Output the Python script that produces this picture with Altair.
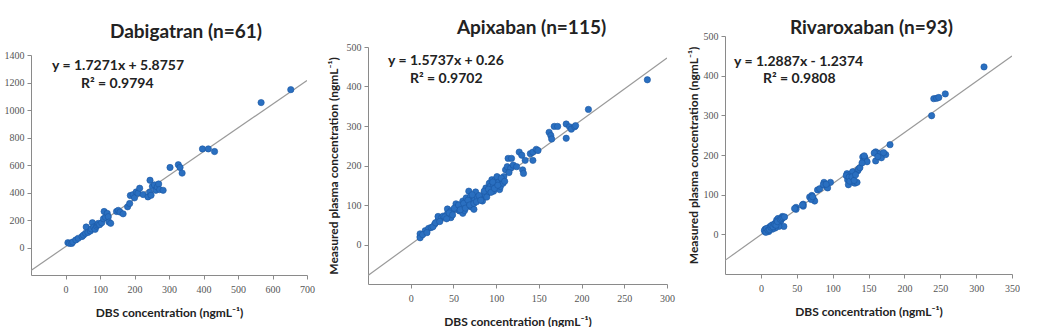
import altair as alt
import pandas as pd

# ---------------- data ----------------
dabi_x = [7, 12, 18, 21, 30, 37, 48, 52, 58, 60, 65, 72, 75, 78, 82, 86, 90, 93, 95, 99,
          105, 110, 112, 116, 121, 124, 126, 131, 148, 153, 158, 167, 180, 186, 188, 196,
          200, 205, 210, 215, 225, 239, 244, 245, 248, 252, 258, 262, 266, 270, 273, 283,
          303, 327, 332, 338, 397, 414, 432, 567, 653]
dabi_y = [35, 30, 30, 40, 55, 67, 80, 90, 103, 149, 110, 120, 135, 180, 149, 132, 155, 164, 175, 166,
          180, 209, 262, 220, 248, 224, 185, 176, 262, 270, 258, 245, 296, 320, 378, 385,
          361, 404, 395, 431, 385, 368, 402, 489, 380, 445, 455, 416, 440, 462, 421, 416,
          582, 602, 582, 541, 717, 717, 698, 1054, 1148]

apix_x = [11, 11, 11, 17, 21, 24, 28, 32, 32, 36, 38, 43, 43, 47, 47, 53, 53, 55, 57, 59,
          61, 61, 63, 65, 66, 68, 68, 70, 71, 73, 74, 75, 76, 78, 84, 84, 87, 88, 90, 92,
          93, 93, 95, 97, 97, 99, 100, 101, 103, 104, 105, 107, 108, 109, 111, 113, 114, 117, 118, 120,
          124, 127, 130, 131, 132, 134, 140, 143, 143, 147, 149, 162, 164, 165, 168, 172, 182, 182, 186, 188,
          192, 193, 208, 277,
          14, 19, 26, 29, 34, 40, 42, 45, 49, 51, 56, 58, 62, 64, 67, 69, 72, 74, 77, 80,
          82, 86, 89, 91, 94, 96, 98, 102, 106, 110, 115]
apix_y = [20, 27, 17, 35, 41, 43, 51, 61, 71, 68, 72, 78, 90, 68, 85, 103, 89, 95, 85, 101,
          110, 79, 86, 118, 97, 135, 105, 122, 95, 110, 89, 114, 133, 120, 118, 110, 126, 143, 130, 155,
          139, 147, 164, 151, 135, 164, 153, 172, 158, 139, 147, 164, 155, 172, 189, 197, 218, 193, 218, 201,
          197, 234, 226, 189, 180, 213, 230, 213, 234, 241, 238, 284, 276, 267, 299, 299, 269, 305, 298, 292,
          298, 301, 342, 417,
          25, 30, 45, 55, 58, 70, 65, 80, 75, 92, 100, 88, 104, 92, 112, 100, 126, 104, 108, 124,
          112, 135, 120, 140, 132, 158, 142, 150, 168, 160, 182]

riva_x = [5.5, 6, 9, 11, 13, 16, 18, 20, 22, 24, 26, 28, 30, 32, 25, 20, 16, 11,
          49, 49, 59, 59, 68, 71, 73, 75, 79, 82, 88, 90, 93, 97,
          120, 121, 122, 125, 126, 128, 129, 131, 134, 135, 136, 142, 143, 145, 148, 160, 160, 162, 166, 168,
          174, 180, 238, 241, 245, 248, 257, 311,
          5, 7, 8, 10, 12, 14, 15, 17, 19, 21, 23, 27, 29, 31, 33, 47, 58, 70, 72, 87,
          91, 119, 123, 124, 127, 130, 132, 138, 141, 144, 158, 163, 171]
riva_y = [7, 13, 12, 16, 20, 24, 21, 28, 36, 40, 30, 35, 45, 20, 20, 16, 13, 7,
          68, 63, 76, 71, 94, 98, 90, 84, 112, 115, 131, 123, 117, 131,
          153, 137, 125, 152, 139, 158, 131, 129, 131, 160, 164, 195, 185, 193, 183, 208, 185, 205, 203, 193,
          201, 226, 299, 342, 343, 345, 354, 422,
          10, 5, 15, 10, 12, 18, 22, 19, 25, 23, 32, 38, 40, 42, 44, 65, 74, 88, 95, 125,
          126, 148, 144, 134, 145, 136, 150, 168, 180, 198, 205, 196, 206]

titles = ["Dabigatran (n=61)", "Apixaban (n=115)", "Rivaroxaban (n=93)"]
equations = ["y = 1.7271x + 5.8757", "y = 1.5737x + 0.26", "y = 1.2887x - 1.2374"]
r2_labels = ["R\u00b2 = 0.9794", "R\u00b2 = 0.9702", "R\u00b2 = 0.9808"]
slopes = [1.7271, 1.5737, 1.2887]
intercepts = [5.8757, 0.26, -1.2374]

x_domains = [[-100, 700], [-50, 300], [-50, 350]]
y_domains = [[-200, 1400], [-100, 500], [-100, 500]]
x_ticks = [[0, 100, 200, 300, 400, 500, 600, 700],
           [0, 50, 100, 150, 200, 250, 300],
           [0, 50, 100, 150, 200, 250, 300, 350]]
y_ticks = [[0, 200, 400, 600, 800, 1000, 1200, 1400],
           [0, 100, 200, 300, 400, 500],
           [0, 100, 200, 300, 400, 500]]

x_title = "DBS concentration (ngmL\u207b\u00b9)"
y_title = "Measured plasma concentration (ngmL\u207b\u00b9)"

# ---------------- layout / style ----------------
sizes = [(276, 220), (299, 237), (287, 238)]
spacer_h = [7, 1, 1]
title_offsets = [8, 4, -7]
title_dx = [17, 14, 3]
y_title_pad = [6, 6, 3]
eq_pos = [(21, 15), (20, 18), (9, 30)]
r2_pos = [(50, 33), (42, 36), (38, 47)]

BLUE = "#2A6FC0"
SANS = "Lato"
SERIF = "Liberation Serif"

columns = []
series = [(dabi_x, dabi_y), (apix_x, apix_y), (riva_x, riva_y)]
for i, (xs, ys) in enumerate(series):
    w, h = sizes[i]
    pts = pd.DataFrame({"x": xs, "y": ys})
    x0, x1 = x_domains[i]
    line_df = pd.DataFrame({"x": [x0, x1],
                            "y": [slopes[i] * x0 + intercepts[i], slopes[i] * x1 + intercepts[i]]})
    xscale = alt.Scale(domain=x_domains[i], nice=False, zero=False)
    yscale = alt.Scale(domain=y_domains[i], nice=False, zero=False)
    xaxis = alt.Axis(values=x_ticks[i], format="d", title=x_title)
    if i == 0:
        yaxis = alt.Axis(values=y_ticks[i], format="d", title=None)
    else:
        yaxis = alt.Axis(values=y_ticks[i], format="d", title=y_title, titlePadding=y_title_pad[i])

    line = alt.Chart(line_df).mark_line(color="#9a9a9a", strokeWidth=1.2, clip=True).encode(
        x=alt.X("x:Q", scale=xscale, axis=xaxis),
        y=alt.Y("y:Q", scale=yscale, axis=yaxis),
    )
    dots = alt.Chart(pts).mark_circle(size=40, color=BLUE, opacity=1,
                                      stroke="#1B57A3", strokeWidth=0.6).encode(
        x=alt.X("x:Q", scale=xscale, axis=xaxis),
        y=alt.Y("y:Q", scale=yscale, axis=yaxis),
    )
    eq = alt.Chart(pd.DataFrame({"t": [equations[i]]})).mark_text(
        align="left", baseline="alphabetic", font=SANS, fontSize=14, fontWeight="bold", color="#222"
    ).encode(x=alt.value(eq_pos[i][0]), y=alt.value(eq_pos[i][1]), text="t:N")
    r2 = alt.Chart(pd.DataFrame({"t": [r2_labels[i]]})).mark_text(
        align="left", baseline="alphabetic", font=SANS, fontSize=14, fontWeight="bold", color="#222"
    ).encode(x=alt.value(r2_pos[i][0]), y=alt.value(r2_pos[i][1]), text="t:N")

    panel = alt.layer(line, dots, eq, r2).properties(
        width=w, height=h,
        title=alt.TitleParams(titles[i], font=SANS, fontSize=19, fontWeight="bold",
                              color="#222", offset=title_offsets[i], anchor="middle",
                              dx=title_dx[i]),
    )
    spacer = alt.Chart(pd.DataFrame({"a": [0]})).mark_point(opacity=0).encode(
        x=alt.value(0), y=alt.value(0)
    ).properties(width=1, height=spacer_h[i])
    columns.append(alt.vconcat(spacer, panel, spacing=0))

chart = alt.hconcat(*columns, spacing=12).properties(
    padding={"left": 4, "top": 13, "right": 0, "bottom": 0},
    background="white",
).configure_view(stroke=None).configure_axis(
    grid=False, domainColor="#8a8a8a", tickColor="#8a8a8a", tickSize=4,
    labelFont=SERIF, labelFontSize=10, labelColor="#555", labelPadding=5,
    labelOverlap=False, labelFlush=False,
    titleFont=SANS, titleFontSize=12, titleFontWeight="bold", titleColor="#222",
).configure_axisX(titlePadding=13).configure_axisY(titlePadding=6, labelPadding=3)

chart.save("out.html", embed_options={"renderer": "svg", "actions": False})
